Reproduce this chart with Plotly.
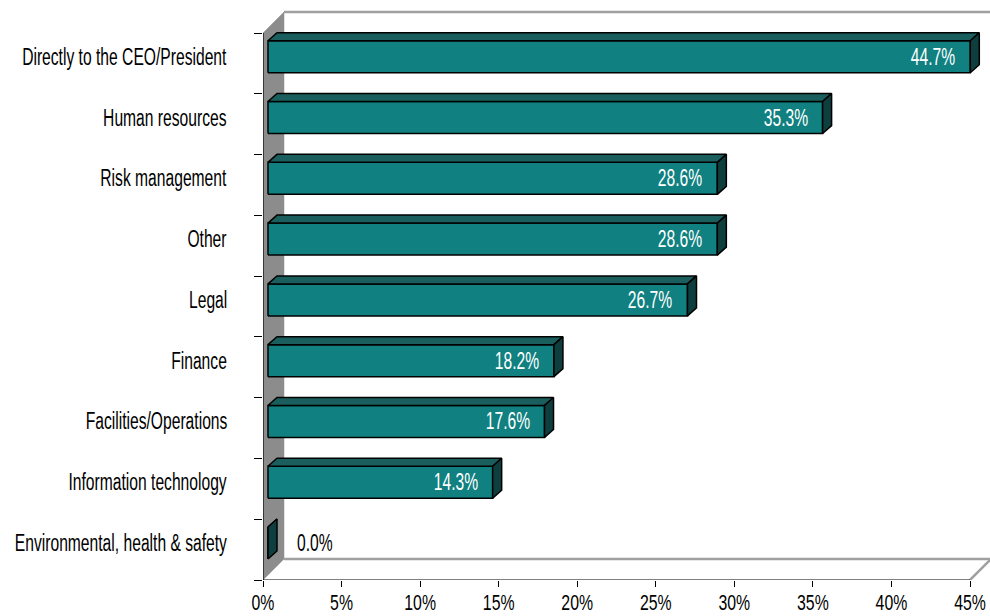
import plotly.graph_objects as go

# Reporting line of the function (share of respondents, %)
categories = [
    "Environmental, health & safety",
    "Information technology",
    "Facilities/Operations",
    "Finance",
    "Legal",
    "Other",
    "Risk management",
    "Human resources",
    "Directly to the CEO/President",
]
values = [0.0, 14.3, 17.6, 18.2, 26.7, 28.6, 28.6, 35.3, 44.7]
x_ticks = [0, 5, 10, 15, 20, 25, 30, 35, 40, 45]

FONT = "Liberation Sans, Arial, sans-serif"
FS = 23

# pixel scale of the two axes
W, H = 990, 616
ML, MB = 263, 36
PX = 707 / 45.0          # px per percentage point
PY = 547 / 9.0           # px per category slot
XMAX = (W - ML) / PX
YMAX = (H - MB) / PY
N = len(categories)
XEND = x_ticks[-1]


def px_x(p):
    return p / PX


def px_y(p):
    return p / PY


# depth of the wall/floor and of each bar
WX, WY = px_x(21), px_y(21)
BX = px_x(5)
BDX, BDY = px_x(9), px_y(8)
FACE_LO, FACE_HI = px_y(21), px_y(53)
LABEL_Y = px_y(37)

FRONT = "#108080"
TOP = "#1b5e5e"
SIDE = "#0f3e3e"
WALL = "#8c8c8c"
EDGE = "#a0a0a0"

fig = go.Figure()


def poly(xs, ys, fill, line_color="black", width=1.5):
    fig.add_trace(go.Scatter(
        x=xs + [xs[0]], y=ys + [ys[0]], mode="lines", fill="toself",
        fillcolor=fill, line=dict(color=line_color, width=width),
        hoverinfo="skip", showlegend=False))


def seg(xs, ys, color, width):
    fig.add_trace(go.Scatter(
        x=xs, y=ys, mode="lines", line=dict(color=color, width=width),
        hoverinfo="skip", showlegend=False))


# side wall and the edges of back wall / floor
poly([0, 0, WX, WX], [0, N, N + WY, WY], WALL, line_color=WALL, width=0.5)
seg([WX, XMAX + 1], [N + WY, N + WY], EDGE, 2.5)
seg([WX, XEND + WX], [WY, WY], EDGE, 2.5)
seg([XEND, XEND + WX], [0, WY], EDGE, 2.5)
seg([0, 0], [0, N], "black", 1.2)
seg([0, XEND], [0, 0], "black", 1.2)

annotations = []
for i, (cat, v) in enumerate(zip(categories, values)):
    x0, x1 = BX, v + BX
    y0, y1 = i + FACE_LO, i + FACE_HI
    # front face
    poly([x0, x1, x1, x0], [y0, y0, y1, y1], FRONT)
    # top face
    poly([x0, x1, x1 + BDX, x0 + BDX], [y1, y1, y1 + BDY, y1 + BDY], TOP)
    # end face
    poly([x1, x1 + BDX, x1 + BDX, x1], [y0, y0 + BDY, y1 + BDY, y1], SIDE)

    annotations.append(dict(
        x=0, xref="paper", y=i + LABEL_Y, yref="y", xshift=-34,
        xanchor="right", align="right", yanchor="middle", showarrow=False,
        text=cat, font=dict(family=FONT, size=FS, color="black")))

    label = f"{v:.1f}%"
    if v > 3:
        annotations.append(dict(
            x=x1, y=i + LABEL_Y, xref="x", yref="y", xshift=-13,
            xanchor="right", align="right", yanchor="middle",
            showarrow=False, text=label,
            font=dict(family=FONT, size=FS, color="white")))
    else:
        annotations.append(dict(
            x=x1, y=i + LABEL_Y, xref="x", yref="y", xshift=27,
            xanchor="left", align="left", yanchor="middle",
            showarrow=False, text=label,
            font=dict(family=FONT, size=FS, color="black")))

fig.update_layout(
    width=W, height=H,
    margin=dict(l=ML, r=0, t=0, b=MB),
    paper_bgcolor="white", plot_bgcolor="white",
    showlegend=False,
    annotations=annotations,
    xaxis=dict(
        range=[0, XMAX], tickmode="array", tickvals=x_ticks,
        ticktext=[f"{t}%" for t in x_ticks], ticks="outside", ticklen=6,
        tickcolor="black", tickwidth=1, showgrid=False, zeroline=False,
        showline=False, fixedrange=True, ticklabeloverflow="allow",
        automargin=False, ticklabelstandoff=-3,
        tickfont=dict(family=FONT, size=22, color="black")),
    yaxis=dict(
        range=[0, YMAX], tickmode="array", tickvals=list(range(N + 1)),
        showticklabels=False, ticks="outside", ticklen=8, tickcolor="black",
        tickwidth=1, showgrid=False, zeroline=False, showline=False,
        fixedrange=True, automargin=False),
)

# narrow the lettering to a condensed set width
condense = """
document.body.style.overflow = 'hidden';
var gd = document.getElementById('{plot_id}');
function squeeze(sel, k) {
  gd.querySelectorAll(sel).forEach(function (t) {
    if (t.getAttribute('data-condensed')) return;
    var w = t.getComputedTextLength();
    if (!w) return;
    t.setAttribute('textLength', (w * k).toFixed(2));
    t.setAttribute('lengthAdjust', 'spacingAndGlyphs');
    t.setAttribute('data-condensed', '1');
  });
}
function condense() {
  squeeze('.annotation-text', 0.68);
  squeeze('.xtick text', 0.72);
}
condense();
if (gd.on) gd.on('plotly_afterplot', condense);
requestAnimationFrame(condense);
"""

fig.write_html("out.html", post_script=condense, config={"staticPlot": True})
